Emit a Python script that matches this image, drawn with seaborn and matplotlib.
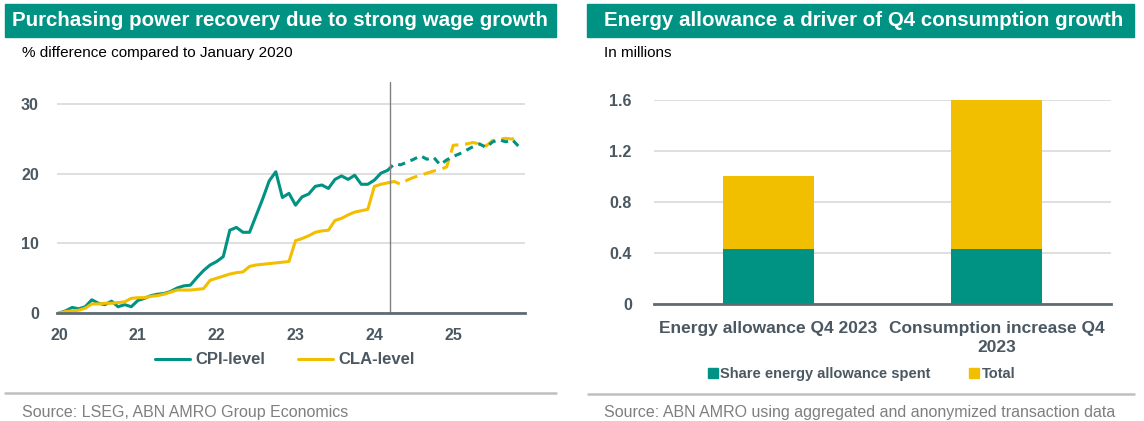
import numpy as np
import pandas as pd
import matplotlib.pyplot as plt
import seaborn as sns
from matplotlib.lines import Line2D
from matplotlib.patches import Rectangle

#%% data
# monthly, starting January 2020 (% difference vs Jan 2020)
cpi_hist = [0.0, 0.3, 0.8, 0.6, 0.9, 1.9, 1.4, 1.2, 1.7, 0.9, 1.2, 0.9,
            1.8, 2.1, 2.5, 2.7, 2.8, 3.1, 3.6, 3.9, 4.0, 5.1, 6.1, 6.9,
            7.4, 8.1, 11.9, 12.3, 11.6, 11.6, 14.0, 16.4, 19.0, 20.3, 16.6, 17.2,
            15.5, 16.7, 17.1, 18.2, 18.4, 17.9, 19.2, 19.7, 19.2, 19.8, 18.5, 18.5,
            19.1, 20.1, 20.5]
cpi_fcst = [20.5, 21.4, 21.3, 21.7, 22.1, 22.6, 22.1, 22.4, 21.3, 22.0, 22.5,
            22.9, 23.4, 23.9, 24.3, 23.8, 24.6, 24.9, 24.6, 24.9, 23.9]
cla_hist = [0.0, 0.2, 0.3, 0.4, 0.7, 1.3, 1.3, 1.4, 1.4, 1.5, 1.6, 2.1,
            2.2, 2.2, 2.4, 2.5, 2.7, 3.0, 3.3, 3.3, 3.3, 3.4, 3.5, 4.7,
            5.0, 5.3, 5.6, 5.8, 5.9, 6.7, 6.9, 7.0, 7.1, 7.2, 7.3, 7.4,
            10.4, 10.7, 11.1, 11.6, 11.8, 11.9, 13.3, 13.6, 14.1, 14.5, 14.7, 14.9,
            18.2, 18.5, 18.7]
cla_fcst = [18.7, 18.9, 18.5, 19.1, 19.5, 19.8, 20.1, 20.4, 20.6, 21.0, 24.1,
            24.2, 24.3, 24.5, 24.3, 24.0, 24.8, 25.0, 25.1, 25.0, 25.6]
year_ticks = [2020, 2021, 2022, 2023, 2024, 2025]
year_labels = ['20', '21', '22', '23', '24', '25']

bar_cats = ['Energy allowance Q4 2023', 'Consumption increase Q4\n2023']
bar_total = [1.0, 1.6]
bar_share = [0.43, 0.43]

#%% styling
teal = '#009282'
yellow = '#F2BF00'
dark = '#4B5862'
grid_c = '#D9D9D9'

sns.set_theme(style='white')
plt.rcParams['font.family'] = ['Liberation Sans', 'DejaVu Sans']

W, H = 1144, 421
fig = plt.figure(figsize=(W / 100, H / 100), dpi=100)


def fx(px):
    return px / W


def fy(py):
    return 1 - py / H


ax1 = fig.add_axes([fx(57), fy(313), (525 - 57) / W, (313 - 82) / H])
ax2 = fig.add_axes([fx(654), fy(304), (1111 - 654) / W, (304 - 100) / H])

#%% left: lines
n_h = len(cpi_hist)
t_hist = 2020 + np.arange(n_h) / 12
t_fcst = 2020 + (n_h - 1 + np.arange(len(cpi_fcst))) / 12
df_hist = pd.DataFrame({'t': np.concatenate([t_hist, t_hist]),
                        'v': cpi_hist + cla_hist,
                        's': ['CPI-level'] * n_h + ['CLA-level'] * n_h})
pal = {'CPI-level': teal, 'CLA-level': yellow}
sns.lineplot(data=df_hist, x='t', y='v', hue='s', palette=pal, lw=2.2,
             legend=False, ax=ax1)
sns.lineplot(x=t_fcst, y=cla_fcst, color=yellow, lw=2.2,
             linestyle=(0, (4.2, 2.2)), ax=ax1)
sns.lineplot(x=t_fcst, y=cpi_fcst, color=teal, lw=2.2,
             linestyle=(0, (2.4, 1.9)), ax=ax1)
ax1.axvline(2020 + 50.4 / 12, color='#808080', lw=1)

ax1.set_xlim(2019.975, 2025.91)
ax1.set_ylim(0, 33.2)
ax1.set_yticks([0, 10, 20, 30])
ax1.set_xticks(year_ticks)
ax1.set_xticklabels(year_labels)
ax1.set_xlabel('')
ax1.set_ylabel('')
ax1.yaxis.grid(True, color=grid_c, lw=1.2)
ax1.set_axisbelow(True)

#%% right: stacked bars
df_bar = pd.DataFrame({'cat': bar_cats, 'total': bar_total, 'share': bar_share})
sns.barplot(data=df_bar, x='cat', y='total', color=yellow, saturation=1,
            width=0.4, linewidth=0, ax=ax2)
sns.barplot(data=df_bar, x='cat', y='share', color=teal, saturation=1,
            width=0.4, linewidth=0, ax=ax2)
ax2.set_xlim(-0.5, 1.5)
ax2.set_ylim(0, 1.6)
ax2.set_yticks([0, 0.4, 0.8, 1.2, 1.6])
ax2.set_yticklabels(['0', '0.4', '0.8', '1.2', '1.6'])
ax2.set_xticks([-0.5, 0.5, 1.5], minor=True)
ax2.set_xlabel('')
ax2.set_ylabel('')
ax2.yaxis.grid(True, color=grid_c, lw=1.2)
ax2.set_axisbelow(True)

for ax in (ax1, ax2):
    for sp in ('top', 'right', 'left'):
        ax.spines[sp].set_visible(False)
    ax.spines['bottom'].set_color('#5F6B73')
    ax.spines['bottom'].set_linewidth(2)
    ax.tick_params(axis='y', length=0, labelsize=11.5, labelcolor=dark)
    for lab in ax.get_yticklabels():
        lab.set_fontweight('bold')

ax1.tick_params(axis='y', pad=13)
ax1.tick_params(axis='x', which='major', length=4, width=2, color='#5F6B73',
                direction='out', pad=7, labelsize=11.5, labelcolor=dark)
for lab in ax1.get_xticklabels():
    lab.set_fontweight('bold')

ax2.tick_params(axis='y', pad=16)
ax2.tick_params(axis='x', which='major', length=0, pad=12, labelsize=12.5,
                labelcolor=dark)
ax2.tick_params(axis='x', which='minor', length=4, width=2, color='#5F6B73',
                direction='out')
for lab in ax2.get_xticklabels():
    lab.set_fontweight('bold')
    lab.set_linespacing(1.4)

#%% headers, subtitles, legends, sources
for x0, x1 in [(5, 556), (587, 1134)]:
    fig.patches.append(Rectangle((fx(x0), fy(37)), (x1 - x0) / W, 33 / H,
                                 transform=fig.transFigure, color=teal,
                                 zorder=0))
fig.text(fx(12), fy(20.5), 'Purchasing power recovery due to strong wage growth',
         color='white', fontsize=14.8, fontweight='bold', va='center')
fig.text(fx(604), fy(20.5), 'Energy allowance a driver of Q4 consumption growth',
         color='white', fontsize=14.75, fontweight='bold', va='center')
fig.text(fx(22), fy(53), '% difference compared to January 2020',
         color='black', fontsize=11, va='center')
fig.text(fx(604), fy(53), 'In millions', color='black', fontsize=11,
         va='center')

for x0, x1, yy in [(5, 556, 393), (588, 1134, 394)]:
    fig.add_artist(Line2D([fx(x0), fx(x1)], [fy(yy), fy(yy)],
                          transform=fig.transFigure, color='#BFBFBF', lw=1.8))
fig.text(fx(22), fy(412), 'Source: LSEG, ABN AMRO Group Economics',
         color='#7F7F7F', fontsize=11.5, va='center')
fig.text(fx(604), fy(412),
         'Source: ABN AMRO using aggregated and anonymized transaction data',
         color='#7F7F7F', fontsize=11.5, va='center')

line_handles = [Line2D([], [], color=teal, lw=2.2),
                Line2D([], [], color=yellow, lw=2.2)]
leg1 = fig.legend(line_handles, ['CPI-level', 'CLA-level'], loc='center',
                  bbox_to_anchor=(fx(285), fy(360)), ncol=2, frameon=False,
                  handlelength=2.1, handletextpad=0.3, columnspacing=2.0,
                  prop={'weight': 'bold', 'size': 12})
for txt in leg1.get_texts():
    txt.set_color(dark)

sq_handles = [Line2D([], [], marker='s', ls='', color=teal, markersize=7),
              Line2D([], [], marker='s', ls='', color=yellow, markersize=7)]
leg2 = fig.legend(sq_handles, ['Share energy allowance spent', 'Total'],
                  loc='center', bbox_to_anchor=(fx(861), fy(374)), ncol=2,
                  frameon=False, handlelength=0.8, handletextpad=0.1,
                  columnspacing=2.6, prop={'weight': 'bold', 'size': 10.5})
for txt in leg2.get_texts():
    txt.set_color(dark)

fig.savefig('out.png', dpi=100)
